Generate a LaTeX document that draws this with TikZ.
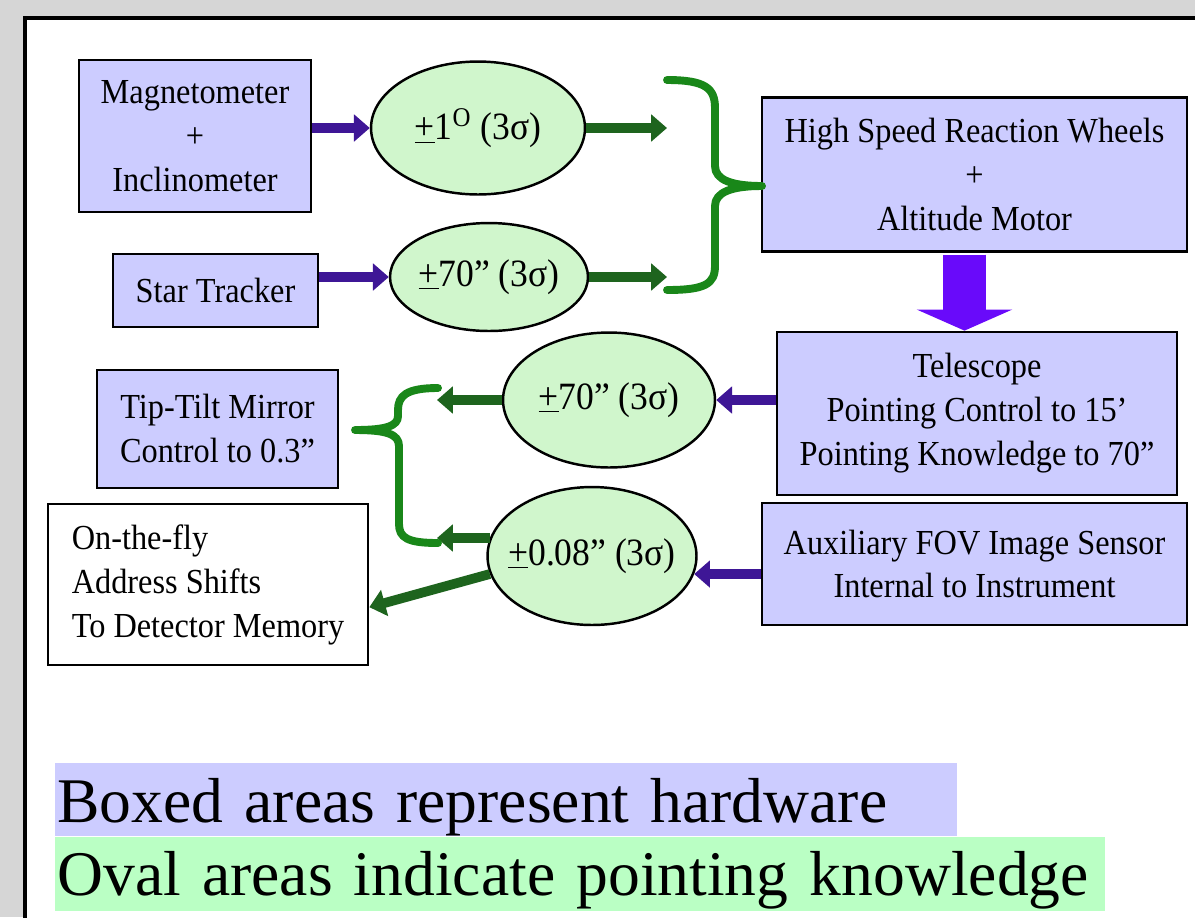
\documentclass[tikz,border=0pt]{standalone}
\usepackage{fontspec}
\setmainfont{Liberation Serif}
\newfontfamily\diagfont[FakeStretch=0.92]{Liberation Serif}
\usetikzlibrary{shapes.geometric,arrows.meta}

\definecolor{lav}{RGB}{204,204,255}
\definecolor{ovalfill}{RGB}{208,246,204}
\definecolor{keygreen}{RGB}{186,255,196}
\definecolor{hwpurple}{RGB}{62,22,150}
\definecolor{kngreen}{RGB}{30,100,30}
\definecolor{bracegreen}{RGB}{25,135,25}
\definecolor{bigpurple}{RGB}{105,10,250}
\definecolor{backgray}{RGB}{214,214,214}

\newcommand{\ulplus}{\underline{+}}

\tikzset{
	hw/.style={draw,line width=1.6pt,fill=lav,align=center,inner sep=0,font=\diagfont\fontsize{20}{25}\selectfont},
	kn/.style={draw,ellipse,line width=1.4pt,fill=ovalfill,inner sep=0,font=\diagfont\fontsize{22}{26}\selectfont},
	hwarrow/.style={color=hwpurple,line width=5.5pt,-{Triangle[length=9pt,width=15pt]}},
	knarrow/.style={color=kngreen,line width=5.5pt,-{Triangle[length=9pt,width=15pt]}},
	bigarrow/.style={color=bigpurple,line width=25pt,-{Triangle[length=12pt,width=54pt]}},
	bracket/.style={draw=bracegreen,line width=4.5pt,line cap=round,line join=round},
	key/.style={anchor=north west,inner xsep=0.04cm,inner ysep=0,align=left,font=\fontsize{36.2}{44}\selectfont}
}

\begin{document}
\begin{tikzpicture}[x=0.02cm,y=-0.02cm]
	\useasboundingbox (0,0) rectangle (1195,917);
	\clip (0,0) rectangle (1195,917);
	\fill[backgray] (0,0) rectangle (1195,917);
	\filldraw[fill=white,draw=black,line width=1.8pt] (25,18) rectangle (1240,960);

	\node[hw,minimum width=4.64cm,minimum height=3.04cm] (mag) at (195,136) {Magnetometer\\+\\Inclinometer};
	\node[hw,minimum width=4.10cm,minimum height=1.46cm] (star) at (215.5,290.5) {Star Tracker};
	\node[hw,minimum width=8.50cm,minimum height=3.08cm] (wheels) at (974.5,174.5) {High Speed Reaction Wheels\\+\\Altitude Motor};
	\node[hw,minimum width=8.00cm,minimum height=3.26cm] (scope) at (977,413.5) {Telescope\\Pointing Control to 15’\\Pointing Knowledge to 70”};
	\node[hw,minimum width=8.50cm,minimum height=2.44cm] (aux) at (974.5,564) {Auxiliary FOV Image Sensor\\Internal to Instrument};
	\node[hw,minimum width=4.82cm,minimum height=2.36cm] (tiptilt) at (217.5,429) {Tip-Tilt Mirror\\Control to 0.3”};
	\node[hw,fill=white,align=left,minimum width=6.40cm,minimum height=3.22cm] (shifts) at (208,584.5) {On-the-fly\\Address Shifts\\To Detector Memory};

	\node[kn,minimum width=4.28cm,minimum height=2.66cm] (k1) at (478,128) {\makebox[0pt]{\ulplus1\textsuperscript{O} (3σ)}};
	\node[kn,minimum width=3.96cm,minimum height=2.16cm] (k2) at (489,277) {\makebox[0pt]{\ulplus70” (3σ)}};
	\node[kn,minimum width=4.24cm,minimum height=2.70cm] (k3) at (609,400) {\makebox[0pt]{\ulplus70” (3σ)}};
	\node[kn,minimum width=4.18cm,minimum height=2.76cm] (k4) at (592,556) {\makebox[0pt]{\ulplus0.08” (3σ)}};

	\coordinate (r1) at (667,128);
	\coordinate (r2) at (667,277);
	\coordinate (l1) at (437,400);
	\coordinate (l2) at (437,538);

	\draw[hwarrow] (mag.east |- k1.west) -- (k1.west);
	\draw[hwarrow] (star.east |- k2.west) -- (k2.west);
	\draw[knarrow] (k1.east) -- (r1);
	\draw[knarrow] (k2.east) -- (r2);
	\draw[bigarrow,shorten <=1pt] ([xshift=-0.2cm]wheels.south) -- ([xshift=-0.2cm]wheels.south |- scope.north);
	\draw[hwarrow] (scope.west |- k3.east) -- (k3.east);
	\draw[hwarrow] (aux.west |- k4.-10) -- (k4.-10);
	\draw[knarrow] (k3.west) -- (l1);
	\draw[knarrow] (k4.170) -- (l2);
	\draw[knarrow] (k4.190) -- (shifts.-8);

	\draw[bracket] (667,80) .. controls (705,80) and (715,88) .. (715,108) -- (715,166) .. controls (715,180) and (732,186) .. (762,186)
		.. controls (732,186) and (715,192) .. (715,206) -- (715,266) .. controls (715,284) and (705,290) .. (667,290);
	\draw[bracket] (438,388) .. controls (406,388) and (398,396) .. (398,410) -- (398,416) .. controls (398,426) and (386,430) .. (355,430)
		.. controls (386,430) and (399,434) .. (399,446) -- (399,524) .. controls (399,538) and (408,543) .. (438,543);

	\node[key,fill=lav,text width=17.96cm,text height=33.5pt,text depth=7.9pt] (hwkey) at (55,763) {\mbox{Boxed areas represent hardware}};
	\node[key,fill=keygreen,text width=20.92cm,text height=32.9pt,text depth=9.1pt] (knkey) at (55,837) {\mbox{Oval areas indicate pointing knowledge}};
\end{tikzpicture}
\end{document}
